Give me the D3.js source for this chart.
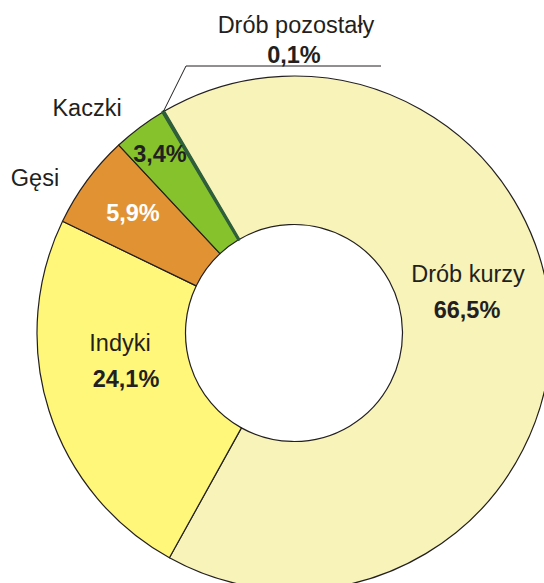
<!DOCTYPE html>
<html>
<head>
<meta charset="utf-8">
<script src="https://cdn.jsdelivr.net/npm/d3@7"></script>
<style>
  body { margin: 0; background: #fff; overflow: hidden; }
  text { font-family: "Liberation Sans", Arial, sans-serif; fill: #231f20; }
</style>
</head>
<body>
<div class="container"></div>
<script>
const categories = ["Drób kurzy", "Indyki", "Gęsi", "Kaczki", "Drób pozostały"];
const shares = [66.5, 24.1, 5.9, 3.4, 0.1];
const shareLabels = ["66,5%", "24,1%", "5,9%", "3,4%", "0,1%"];
const colors = ["#f7f3b9", "#fff77a", "#e19333", "#86c22b", "#86c22b"];

const width = 544;
const height = 583;
const cx = 294;
const cy = 333;
const outerRadius = 257;
const innerRadius = 108.5;
const startDeg = -30.4;

const svg = d3.select(".container")
  .append("svg")
  .attr("width", width)
  .attr("height", height)
  .style("display", "block");

const pie = d3.pie()
  .sort(null)
  .value((d) => d)
  .startAngle(startDeg * Math.PI / 180)
  .endAngle((startDeg + 360) * Math.PI / 180);

const arc = d3.arc().innerRadius(innerRadius).outerRadius(outerRadius);
const arcs = pie(shares);

const g = svg.append("g").attr("transform", `translate(${cx},${cy})`);

g.selectAll("path")
  .data(arcs)
  .join("path")
  .attr("d", arc)
  .attr("fill", (d, i) => colors[i])
  .attr("stroke", (d, i) => (i === 4 ? "#2e5e3a" : "#231f20"))
  .attr("stroke-width", (d, i) => (i === 4 ? 2.5 : 1.2))
  .attr("stroke-linejoin", "round");

// leader line for the tiny slice
const tiny = arcs[4];
const tinyAngle = (tiny.startAngle + tiny.endAngle) / 2;
const lx = Math.sin(tinyAngle) * outerRadius;
const ly = -Math.cos(tinyAngle) * outerRadius;
g.append("polyline")
  .attr("points", `${lx},${ly} ${186 - cx},${66 - cy} ${381 - cx},${66 - cy}`)
  .attr("fill", "none")
  .attr("stroke", "#231f20")
  .attr("stroke-width", 1);

// label layout (name position, value position) in page coordinates
const labelLayout = [
  { name: [468, 282], value: [467, 318], valueColor: "#231f20" },
  { name: [120, 351], value: [126, 387], valueColor: "#231f20" },
  { name: [35, 186], value: [133, 221], valueColor: "#ffffff" },
  { name: [87, 116], value: [160, 162], valueColor: "#231f20" },
  { name: [296, 33], value: [294, 63], valueColor: "#231f20" },
];

labelLayout.forEach((l, i) => {
  svg.append("text")
    .attr("x", l.name[0])
    .attr("y", l.name[1])
    .attr("text-anchor", "middle")
    .attr("font-size", 23.5)
    .text(categories[i]);

  svg.append("text")
    .attr("x", l.value[0])
    .attr("y", l.value[1])
    .attr("text-anchor", "middle")
    .attr("font-size", 23.5)
    .attr("font-weight", "bold")
    .style("fill", l.valueColor)
    .text(shareLabels[i]);
});
</script>
</body>
</html>
